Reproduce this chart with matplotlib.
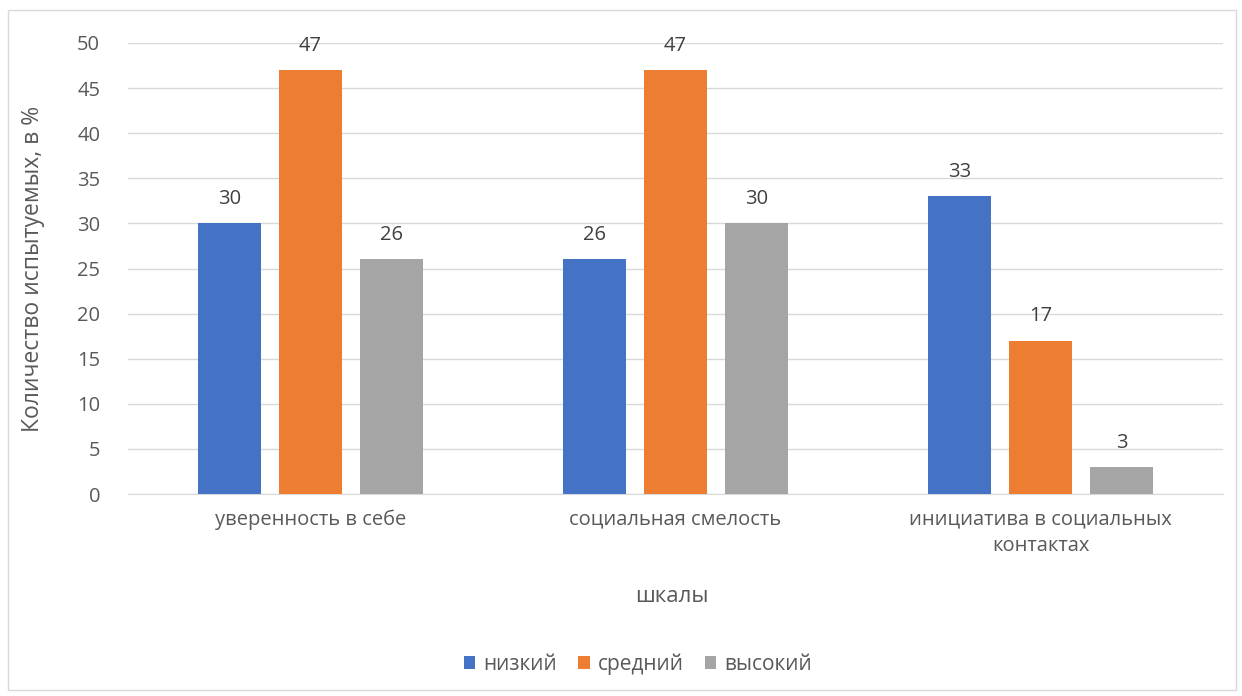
import matplotlib.pyplot as plt
import numpy as np
from matplotlib.patches import Rectangle

plt.rcParams['font.family'] = ['Open Sans', 'DejaVu Sans']

categories = ['уверенность в себе', 'социальная смелость', 'инициатива в социальных\nконтактах']
series_names = ['низкий', 'средний', 'высокий']
low = [30, 26, 33]
mid = [47, 47, 17]
high = [26, 30, 3]
colors = ['#4472C4', '#ED7D31', '#A5A5A5']

fig = plt.figure(figsize=(12.42, 6.96), dpi=100)
ax = fig.add_axes([128 / 1242, 1 - 494 / 696, 1095 / 1242, 451 / 696])

x = np.arange(len(categories))
width = 0.175
step = 0.222

for i, (vals, name, c) in enumerate(zip([low, mid, high], series_names, colors)):
    bars = ax.bar(x + (i - 1) * step, vals, width, color=c, label=name, zorder=3)
    for b, v in zip(bars, vals):
        ax.text(b.get_x() + b.get_width() / 2, v + 1.6, str(v),
                ha='center', va='bottom', fontsize=14.5, color='#404040')

ax.set_xlim(-0.5, 2.5)
ax.set_ylim(0, 50)
ax.set_yticks(range(0, 51, 5))
ax.yaxis.grid(True, color='#D9D9D9', linewidth=1, zorder=0)
ax.set_xticks(x)
ax.set_xticklabels(categories, fontsize=14.5, color='#595959', linespacing=1.45)
ax.tick_params(axis='y', labelsize=14.5, labelcolor='#595959', length=0, pad=20)
ax.tick_params(axis='x', length=0, pad=11)
for s in ['top', 'right', 'left']:
    ax.spines[s].set_visible(False)
ax.spines['bottom'].set_color('#D9D9D9')

ax.set_ylabel('Количество испытуемых, в %', fontsize=16.5, color='#595959')
ax.yaxis.set_label_coords((45 - 128) / 1095, 0.5)
fig.text(672 / 1242, 1 - 597 / 696, 'шкалы', ha='center', va='center', fontsize=16, color='#595959')

ax.legend(loc='center', bbox_to_anchor=(638 / 1242, 1 - 664 / 696), bbox_transform=fig.transFigure,
          ncol=3, frameon=False, fontsize=15, handlelength=0.55, handleheight=0.55,
          columnspacing=1.0, handletextpad=0.4, labelcolor='#595959')

fig.patches.append(Rectangle((8 / 1242, 6 / 696), 1228 / 1242, 680 / 696, transform=fig.transFigure,
                             fill=False, edgecolor='#D9D9D9', linewidth=1))

fig.savefig('out.png', dpi=100)
